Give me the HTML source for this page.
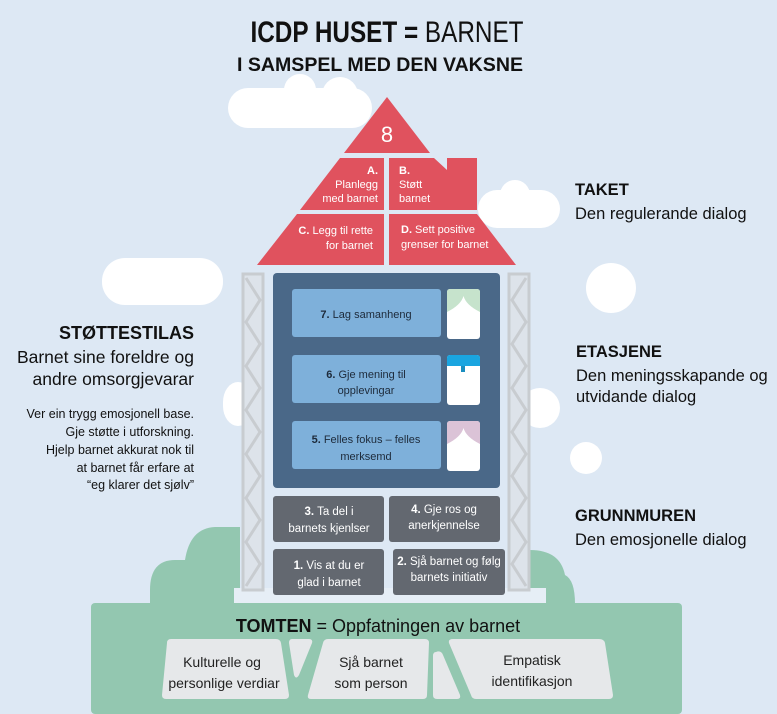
<!DOCTYPE html>
<html><head><meta charset="utf-8"><style>
html,body{margin:0;padding:0;background:#dde8f4;}
svg{display:block;font-family:"Liberation Sans",sans-serif;}
</style></head><body>
<svg width="777" height="714" viewBox="0 0 777 714" xmlns="http://www.w3.org/2000/svg">
<rect width="777" height="714" fill="#dde8f4"/>
<!-- clouds -->
<g fill="#ffffff">
<rect x="228" y="88" width="144" height="40" rx="20"/><circle cx="300" cy="90" r="16"/><circle cx="340" cy="95" r="18"/>
<rect x="478" y="190" width="82" height="38" rx="19"/><circle cx="515" cy="195" r="15"/>
<rect x="102" y="258" width="121" height="47" rx="23"/>
<circle cx="611" cy="288" r="25"/>
<rect x="223" y="382" width="30" height="44" rx="20"/>
<rect x="520" y="388" width="40" height="40" rx="20"/>
<circle cx="586" cy="458" r="16"/>
</g>
<!-- green hill -->
<path d="M150 604 L150 590 Q150 560 175 560 L185 560 Q190 528 215 527 L240 527 L240 604 Z" fill="#93c7b0"/>
<path d="M530 604 L530 550 Q560 550 565 575 Q575 580 575 604 Z" fill="#93c7b0"/>
<rect x="234" y="588" width="312" height="18" fill="#e6eef6"/>
<!-- tomt -->
<rect x="91" y="603" width="591" height="111" rx="4" fill="#93c7b0"/>
<text x="378" y="632" text-anchor="middle" font-size="18" fill="#111"><tspan font-weight="bold">TOMTEN</tspan> = Oppfatningen av barnet</text>
<g fill="#e6e8ea">
<path d="M171 639 L276 639 Q280 639 281 643 L289 695 Q289 699 285 699 L166 699 Q162 699 162 695 L167 643 Q167 639 171 639 Z"/>
<path d="M292 639 L309 639 Q313 639 312 643 L299 675 Q296 680 294 675 L289 643 Q289 639 292 639 Z"/>
<path d="M328 639 L425 639 Q429 639 429 643 L427 695 Q427 699 423 699 L311 699 Q307 699 308 695 L323 643 Q324 639 328 639 Z"/>
<path d="M436 652 Q441 650 443 655 L460 695 Q461 699 457 699 L437 699 Q433 699 433 695 L433 656 Q433 652 436 652 Z"/>
<path d="M453 639 L599 639 Q604 639 605 643 L613 695 Q613 699 609 699 L476 699 Q472 699 471 695 L449 643 Q448 639 453 639 Z"/>
</g>
<g font-size="14" fill="#222" text-anchor="middle">
<text x="222" y="667">Kulturelle og</text><text x="224" y="688">personlige verdiar</text>
<text x="371" y="667">Sjå barnet</text><text x="371" y="688">som person</text>
<text x="532" y="665">Empatisk</text><text x="532" y="686">identifikasjon</text>
</g>
<!-- scaffolds -->
<g stroke="#c8ccd0" fill="none" stroke-width="3">
<rect x="243" y="274" width="20" height="316" fill="#dde3ea"/>
<rect x="509" y="274" width="20" height="316" fill="#dde3ea"/>
<path d="M246 278 L260 300 L246 322 L260 344 L246 366 L260 388 L246 410 L260 432 L246 454 L260 476 L246 498 L260 520 L246 542 L260 564 L246 586"/>
<path d="M526 278 L512 300 L526 322 L512 344 L526 366 L512 388 L526 410 L512 432 L526 454 L512 476 L526 498 L512 520 L526 542 L512 564 L526 586"/>
</g>
<!-- upper floors -->
<rect x="273" y="273" width="227" height="215" rx="4" fill="#4a6888"/>
<g fill="#7eb0da">
<rect x="292" y="289" width="149" height="48" rx="3"/>
<rect x="292" y="355" width="149" height="48" rx="3"/>
<rect x="292" y="421" width="149" height="48" rx="3"/>
</g>
<g fill="#fff">
<rect x="447" y="289" width="33" height="50" rx="3"/>
<rect x="447" y="355" width="33" height="50" rx="3"/>
<rect x="447" y="421" width="33" height="50" rx="3"/>
</g>
<path d="M447 292 Q447 289 450 289 L477 289 Q480 289 480 292 L480 312 Q466 305 463.5 296 Q461 305 447 312 Z" fill="#c6e3cc"/>
<path d="M447 358 Q447 355 450 355 L477 355 Q480 355 480 358 L480 366 L447 366 Z" fill="#1aa5e0"/>
<rect x="461" y="366" width="4" height="6" fill="#1a8ec0"/>
<path d="M447 424 Q447 421 450 421 L477 421 Q480 421 480 424 L480 444 Q466 437 463.5 428 Q461 437 447 444 Z" fill="#dbc3d7"/>
<g font-size="11" fill="#1d2a3a" text-anchor="middle">
<text x="366" y="318"><tspan font-weight="bold">7.</tspan> Lag samanheng</text>
<text x="366" y="378"><tspan font-weight="bold">6.</tspan> Gje mening til</text><text x="366" y="394">opplevingar</text>
<text x="366" y="443"><tspan font-weight="bold">5.</tspan> Felles fokus – felles</text><text x="366" y="460">merksemd</text>
</g>
<!-- ground floors -->
<g fill="#636870">
<rect x="273" y="496" width="111" height="46" rx="3"/>
<rect x="389" y="496" width="111" height="46" rx="3"/>
<rect x="273" y="549" width="111" height="46" rx="3"/>
<rect x="393" y="549" width="112" height="46" rx="3"/>
</g>
<g font-size="11.5" fill="#fff" text-anchor="middle">
<text x="329" y="515"><tspan font-weight="bold">3.</tspan> Ta del i</text><text x="329" y="532">barnets kjenlser</text>
<text x="444" y="513"><tspan font-weight="bold">4.</tspan> Gje ros og</text><text x="444" y="529">anerkjennelse</text>
<text x="329" y="569"><tspan font-weight="bold">1.</tspan> Vis at du er</text><text x="329" y="586">glad i barnet</text>
<text x="449" y="565"><tspan font-weight="bold">2.</tspan> Sjå barnet og følg</text><text x="449" y="581">barnets initiativ</text>
</g>
<!-- roof -->
<g fill="#e0525e">
<polygon points="387,97 430,153 344,153"/>
<polygon points="340,158 384,158 384,210 300,210"/>
<polygon points="389,158 434,158 447,170 447,158 477,158 477,210 389,210"/>
<polygon points="297,214 384,214 384,265 257,265"/>
<polygon points="389,214 477,214 516,265 389,265"/>
</g>
<g fill="#fff" font-size="11">
<text x="387" y="142" text-anchor="middle" font-size="22">8</text>
<text x="378" y="174" text-anchor="end" font-weight="bold">A.</text>
<text x="378" y="188" text-anchor="end">Planlegg</text>
<text x="378" y="202" text-anchor="end">med barnet</text>
<text x="399" y="174" font-weight="bold">B.</text>
<text x="399" y="188">Støtt</text>
<text x="399" y="202">barnet</text>
<text x="373" y="234" text-anchor="end"><tspan font-weight="bold">C.</tspan> Legg til rette</text>
<text x="373" y="249" text-anchor="end">for barnet</text>
<text x="401" y="233"><tspan font-weight="bold">D.</tspan> Sett positive</text>
<text x="401" y="248">grenser for barnet</text>
</g>
<!-- title -->
<text x="387" y="42" text-anchor="middle" font-size="30" font-family="Liberation Sans Narrow, Liberation Sans, sans-serif" fill="#111" textLength="273" lengthAdjust="spacingAndGlyphs"><tspan font-weight="bold">ICDP HUSET = </tspan>BARNET</text>
<text x="380" y="71" text-anchor="middle" font-size="19" font-weight="bold" fill="#111" textLength="286" lengthAdjust="spacingAndGlyphs">I SAMSPEL MED DEN VAKSNE</text>
<!-- right labels -->
<g fill="#111" font-size="16.5">
<text x="575" y="195" font-weight="bold">TAKET</text>
<text x="575" y="219">Den regulerande dialog</text>
<text x="576" y="357" font-weight="bold">ETASJENE</text>
<text x="576" y="381">Den meningsskapande og</text>
<text x="576" y="402">utvidande dialog</text>
<text x="575" y="521" font-weight="bold">GRUNNMUREN</text>
<text x="575" y="545">Den emosjonelle dialog</text>
</g>
<!-- left labels -->
<g fill="#111" text-anchor="end">
<text x="194" y="339" font-size="18" font-weight="bold">STØTTESTILAS</text>
<text x="194" y="363" font-size="17.5">Barnet sine foreldre og</text>
<text x="194" y="385" font-size="17.5">andre omsorgjevarar</text>
<g font-size="12.5">
<text x="194" y="418">Ver ein trygg emosjonell base.</text>
<text x="194" y="436">Gje støtte i utforskning.</text>
<text x="194" y="454">Hjelp barnet akkurat nok til</text>
<text x="194" y="472">at barnet får erfare at</text>
<text x="194" y="489">“eg klarer det sjølv”</text>
</g>
</g>
</svg>
</body></html>
